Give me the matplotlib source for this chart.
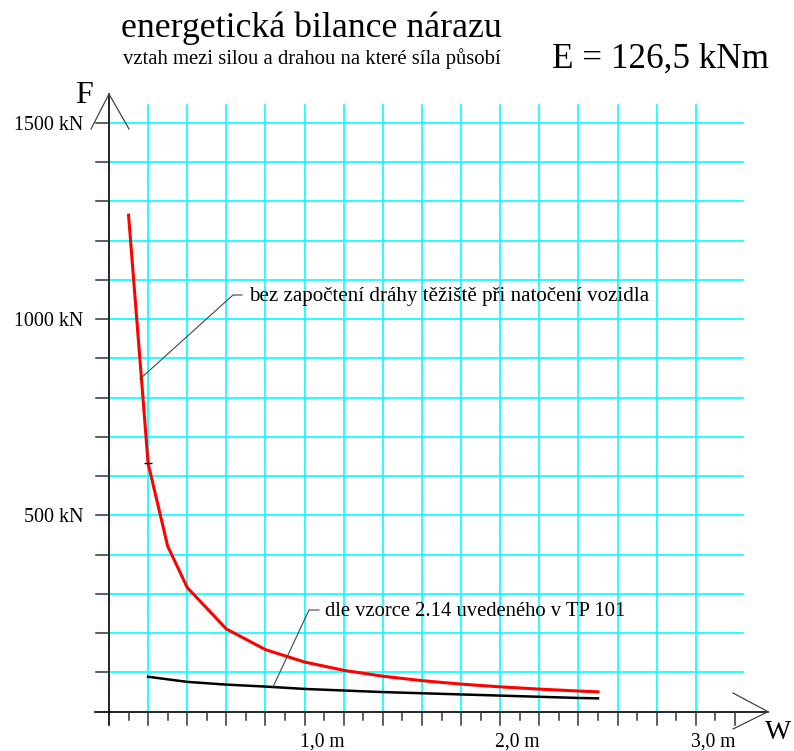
import matplotlib
matplotlib.use("Agg")
import matplotlib.pyplot as plt
import numpy as np

# ---------------- data ----------------
w_red = [0.1, 0.2, 0.3, 0.4, 0.6, 0.8, 1.0, 1.2, 1.4, 1.6, 1.8, 2.0, 2.2, 2.4, 2.5]
F_red = [1265, 632.5, 421.7, 316.3, 210.8, 158.1, 126.5, 105.4, 90.4, 79.1, 70.3, 63.3, 57.5, 52.7, 50.6]

w_black = [0.2, 0.4, 0.6, 0.8, 1.0, 1.2, 1.4, 1.6, 1.8, 2.0, 2.2, 2.4, 2.5]
F_black = [89, 76, 69, 64, 58, 54, 50, 47, 44, 41, 38, 35, 34]

y_labels = ["500 kN", "1000 kN", "1500 kN"]
y_label_vals = [500, 1000, 1500]
x_labels = ["1,0 m", "2,0 m", "3,0 m"]
x_label_vals = [1.0, 2.0, 3.0]

title = "energetická bilance nárazu"
subtitle = "vztah mezi silou a drahou na které síla působí"
energy = "E = 126,5 kNm"
label_red = "bez započtení dráhy těžiště při natočení vozidla"
label_black = "dle vzorce 2.14 uvedeného v TP 101"

# ---------------- figure ----------------
W, H = 794, 751
fig = plt.figure(figsize=(W / 100, H / 100), dpi=100)
ax = fig.add_axes([0, 0, 1, 1])
ax.set_axis_off()

# pixel <-> data mapping
X0, SX = 109.0, 195.6      # px at w=0, px per metre
Y0, SY = 711.7, 0.3925     # px at F=0, px per kN
ax.set_xlim(-X0 / SX, (W - X0) / SX)
ax.set_ylim((Y0 - H) / SY, Y0 / SY)

def px_w(px):
    return (px - X0) / SX

def px_F(py):
    return (Y0 - py) / SY

serif = ["Liberation Serif", "DejaVu Serif"]
cyan = "#00FFFF"

# grid
gx = np.arange(1, 16) * 0.2
for g in gx:
    ax.plot([g, g], [0, px_F(105)], color=cyan, lw=1.2, zorder=1)
for f in np.arange(1, 16) * 100:
    ax.plot([0, px_w(743)], [f, f], color=cyan, lw=1.2, zorder=1)

# axes
ax.plot([0, 0], [px_F(725), px_F(94)], color="black", lw=1.2, zorder=3)
ax.plot([px_w(95), px_w(768)], [0, 0], color="black", lw=1.2, zorder=3)
# y ticks
for f in np.arange(1, 16) * 100:
    ax.plot([px_w(96), 0], [f, f], color="#333333", lw=1.1, zorder=3)
# x ticks
for i in range(1, 33):
    v = i * 0.1
    major = (i % 2 == 0)
    ax.plot([v, v], [0, px_F(725 if major else 720)], color="#333333", lw=1.1, zorder=3)

# arrow heads
ax.plot([px_w(91), 0, px_w(129)], [px_F(129), px_F(94), px_F(129)], color="#444444", lw=0.9, zorder=3)
ax.plot([px_w(733), px_w(768), px_w(733)], [px_F(693), 0, px_F(729)], color="#444444", lw=0.9, zorder=3)

# curves
ax.plot(w_red, F_red, color="#FF0000", lw=2.2, zorder=4, solid_joinstyle="miter")
ax.plot(w_black, F_black, color="black", lw=1.8, zorder=4)
ax.plot([w_red[1]], [F_red[1]], marker="_", color="black", ms=6, mew=1.0, zorder=5)

# leader lines
ax.plot([px_w(140), px_w(233), px_w(242)], [px_F(379), px_F(295), px_F(295)],
        color="#444444", lw=0.8, zorder=5)
ax.plot([px_w(273), px_w(309), px_w(319)], [px_F(687), px_F(610), px_F(610)],
        color="#444444", lw=0.8, zorder=5)

renderer = fig.canvas.get_renderer()

def fit_text(s, x0, x1, y_base, fs, ha="left", boost=1.0):
    t = fig.text(x0 / W, 1 - y_base / H, s, fontsize=fs, family=serif,
                 va="baseline", ha="left", color="black")
    w = t.get_window_extent(renderer).width
    t.set_fontsize(fs * (x1 - x0) / w * boost)
    if ha == "right":
        t.set_ha("right")
        t.set_x(x1 / W)
    return t

fit_text(title, 121, 490, 37, 22, boost=1.03)
fit_text(subtitle, 123, 502, 64, 12)
fit_text(energy, 552, 765, 68, 20, boost=1.02)

fig.text(75 / W, 1 - 103 / H, "F", fontsize=23, family=serif, va="baseline", ha="left")
fig.text(765 / W, 1 - 739 / H, "W", fontsize=20, family=serif, va="baseline", ha="left")

fit_text(label_red, 249, 648, 301, 14)
fit_text(label_black, 325, 627, 616, 14)

# y labels
for s, v in zip(y_labels, y_label_vals):
    py = Y0 - v * SY
    width = 70 * len(s) / 7
    fit_text(s, 83 - width, 83, py + 7, 14, ha="right")

# x labels
for s, v in zip(x_labels, x_label_vals):
    px = X0 + v * SX
    fit_text(s, px - 5, px + 40, 747, 14)

fig.savefig("out.png", dpi=100)
